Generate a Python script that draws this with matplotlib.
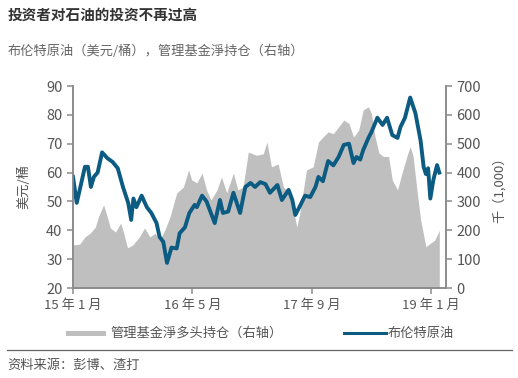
import numpy as np
import matplotlib
matplotlib.use('Agg')
import matplotlib.pyplot as plt
from matplotlib.patches import Rectangle
from matplotlib.lines import Line2D

plt.rcParams['font.family'] = ['Noto Sans CJK SC', 'DejaVu Sans']

# months since Jan 2015
brent_t = [0, 0.5, 0.9, 1.6, 2.0, 2.4, 2.8, 3.3, 3.9, 4.6, 5.3, 6.0, 6.7, 7.4, 7.8, 8.1, 8.5,
           9.2, 9.9, 10.5, 11.2, 11.6, 12.1, 12.6, 13.2, 13.9, 14.3, 15.0, 15.6, 16.3, 16.6,
           17.3, 17.9, 19.0, 19.7, 20.1, 20.8, 21.5, 22.4, 23.1, 23.8, 24.4, 25.1, 25.8, 26.4,
           27.4, 28.0, 28.9, 29.4, 29.8, 30.5, 31.1, 31.8, 32.5, 32.9, 33.5, 34.2, 34.9, 35.6,
           36.3, 37.0, 37.6, 38.0, 38.5, 38.9, 39.6, 40.0, 40.8, 41.5, 42.1, 42.8, 43.5, 43.9,
           44.5, 45.2, 45.9, 46.6, 47.0, 47.3, 47.6, 47.9, 48.3, 48.8, 49.1]
brent = [58.5, 49.5, 54, 62, 62, 55, 58.5, 60, 67, 65, 63.7, 61.5, 55, 49.5, 43.6, 51, 48,
         52, 48, 46, 42.5, 37.7, 36, 28.7, 34, 33.7, 39, 41, 46, 48.8, 48,
         52, 50, 42.5, 50.5, 46, 46.5, 53, 46, 55, 56.4, 55, 56.7, 56, 53,
         55.7, 50.5, 54, 50.5, 45.3, 48.8, 52, 51.5, 55, 58.5, 57, 64, 62.5, 65.4,
         69.6, 70, 63.3, 65.4, 64.5, 67.8, 72, 74, 79, 76.5, 79, 73, 72, 75.8,
         79, 86, 80.6, 71, 62, 59.5, 61.5, 51, 57.4, 62.6, 60]

pos_t = [0, 0.9, 1.6, 2.3, 3.0, 3.4, 4.1, 4.6, 5.0, 5.7, 6.4, 6.8, 7.3, 8.0, 8.9, 9.6, 10.3,
         11.0, 11.6, 12.3, 13.0, 13.9, 14.8, 15.5, 15.9, 16.6, 17.3, 17.9, 18.5, 19.3, 19.9,
         20.6, 21.5, 22.1, 22.8, 23.5, 24.6, 25.5, 26.0, 26.6, 27.5, 28.2, 29.1, 30.0, 30.4,
         31.3, 32.2, 32.9, 33.5, 34.2, 34.9, 35.6, 36.3, 37.0, 37.6, 38.3, 38.9, 39.6, 40.0,
         40.5, 41.0, 41.6, 42.3, 42.8, 43.5, 44.1, 44.8, 45.2, 45.6, 46.1, 46.6, 47.3, 47.9,
         48.5, 49.1]
pos = [149, 152, 177, 190, 211, 246, 288, 246, 208, 194, 225, 190, 139, 149, 177, 208, 177,
       190, 166, 200, 246, 329, 350, 409, 375, 364, 398, 340, 305, 340, 385,
       330, 398, 340, 350, 471, 460, 465, 506, 420, 430, 350, 330, 211, 260,
       409, 420, 506, 523, 541, 535, 558, 582, 570, 523, 547, 617, 628, 605,
       523, 468, 456, 456, 374, 340, 398, 460, 490, 456, 340, 236, 143, 155,
       166, 200]

xtick_pos = [0, 16, 32, 48]
xtick_lab = ['15 年 1 月', '16 年 5 月', '17 年 9 月', '19 年 1 月']

blue = '#0b5b82'
grey = '#bfbfbf'
axc = '#8c8c8c'
txt = '#555555'

fig = plt.figure(figsize=(5.18, 3.78), dpi=100)
ax = fig.add_axes([73/518, 1-288/378, (446-73)/518, (288-86)/378])
ax2 = ax.twinx()

ax2.fill_between(pos_t, 0, pos, color=grey, lw=0)
ax2.set_ylim(0, 700)
ax2.set_yticks(range(0, 701, 100))

ax.plot(brent_t, brent, color=blue, lw=2.8, solid_joinstyle='round')
ax.set_ylim(20, 90)
ax.set_yticks(range(20, 91, 10))
ax.set_xlim(0, 50)
ax.set_xticks(xtick_pos)
ax.set_xticklabels(xtick_lab)

ax.set_zorder(ax2.get_zorder() + 1)
ax.patch.set_visible(False)

for a in (ax, ax2):
    a.spines['top'].set_visible(False)
    for s in ('left', 'right', 'bottom'):
        a.spines[s].set_color(axc)
        a.spines[s].set_linewidth(1.2)
    a.tick_params(colors=axc, labelcolor=txt, labelsize=10.5, length=4, width=1.1)
ax.tick_params(axis='x', labelsize=9.5, pad=4)

ax.set_ylabel('美元/桶', fontsize=9.5, color=txt, labelpad=11)
ax2.set_ylabel('千（1,000）', fontsize=9.5, color=txt, labelpad=8)

fig.text(8/518, 1-15/378, '投资者对石油的投资不再过高', fontsize=10.5, fontweight='bold',
         color='#333333', va='center', ha='left')
fig.text(8/518, 1-51/378, '布伦特原油（美元/桶），管理基金淨持仓（右轴）', fontsize=9.5,
         color='#666666', va='center', ha='left')

# legend
fig.patches.append(Rectangle((66/518, 1-336/378), 40/518, 5/378, transform=fig.transFigure,
                             color=grey, lw=0))
fig.text(110/518, 1-333/378, '管理基金淨多头持仓（右轴）', fontsize=9.5, color=txt,
         va='center', ha='left')
fig.lines.append(Line2D([344/518, 386/518], [1-333/378, 1-333/378], transform=fig.transFigure,
                        color=blue, lw=2.2))
fig.text(388/518, 1-333/378, '布伦特原油', fontsize=9.5, color=txt, va='center', ha='left')

fig.lines.append(Line2D([7/518, 512/518], [1-350/378, 1-350/378], transform=fig.transFigure,
                        color='#666666', lw=0.9))
fig.text(7/518, 1-365/378, '资料来源：彭博、渣打', fontsize=9.5, color='#555555',
         va='center', ha='left')

fig.savefig('out.png', dpi=100)
